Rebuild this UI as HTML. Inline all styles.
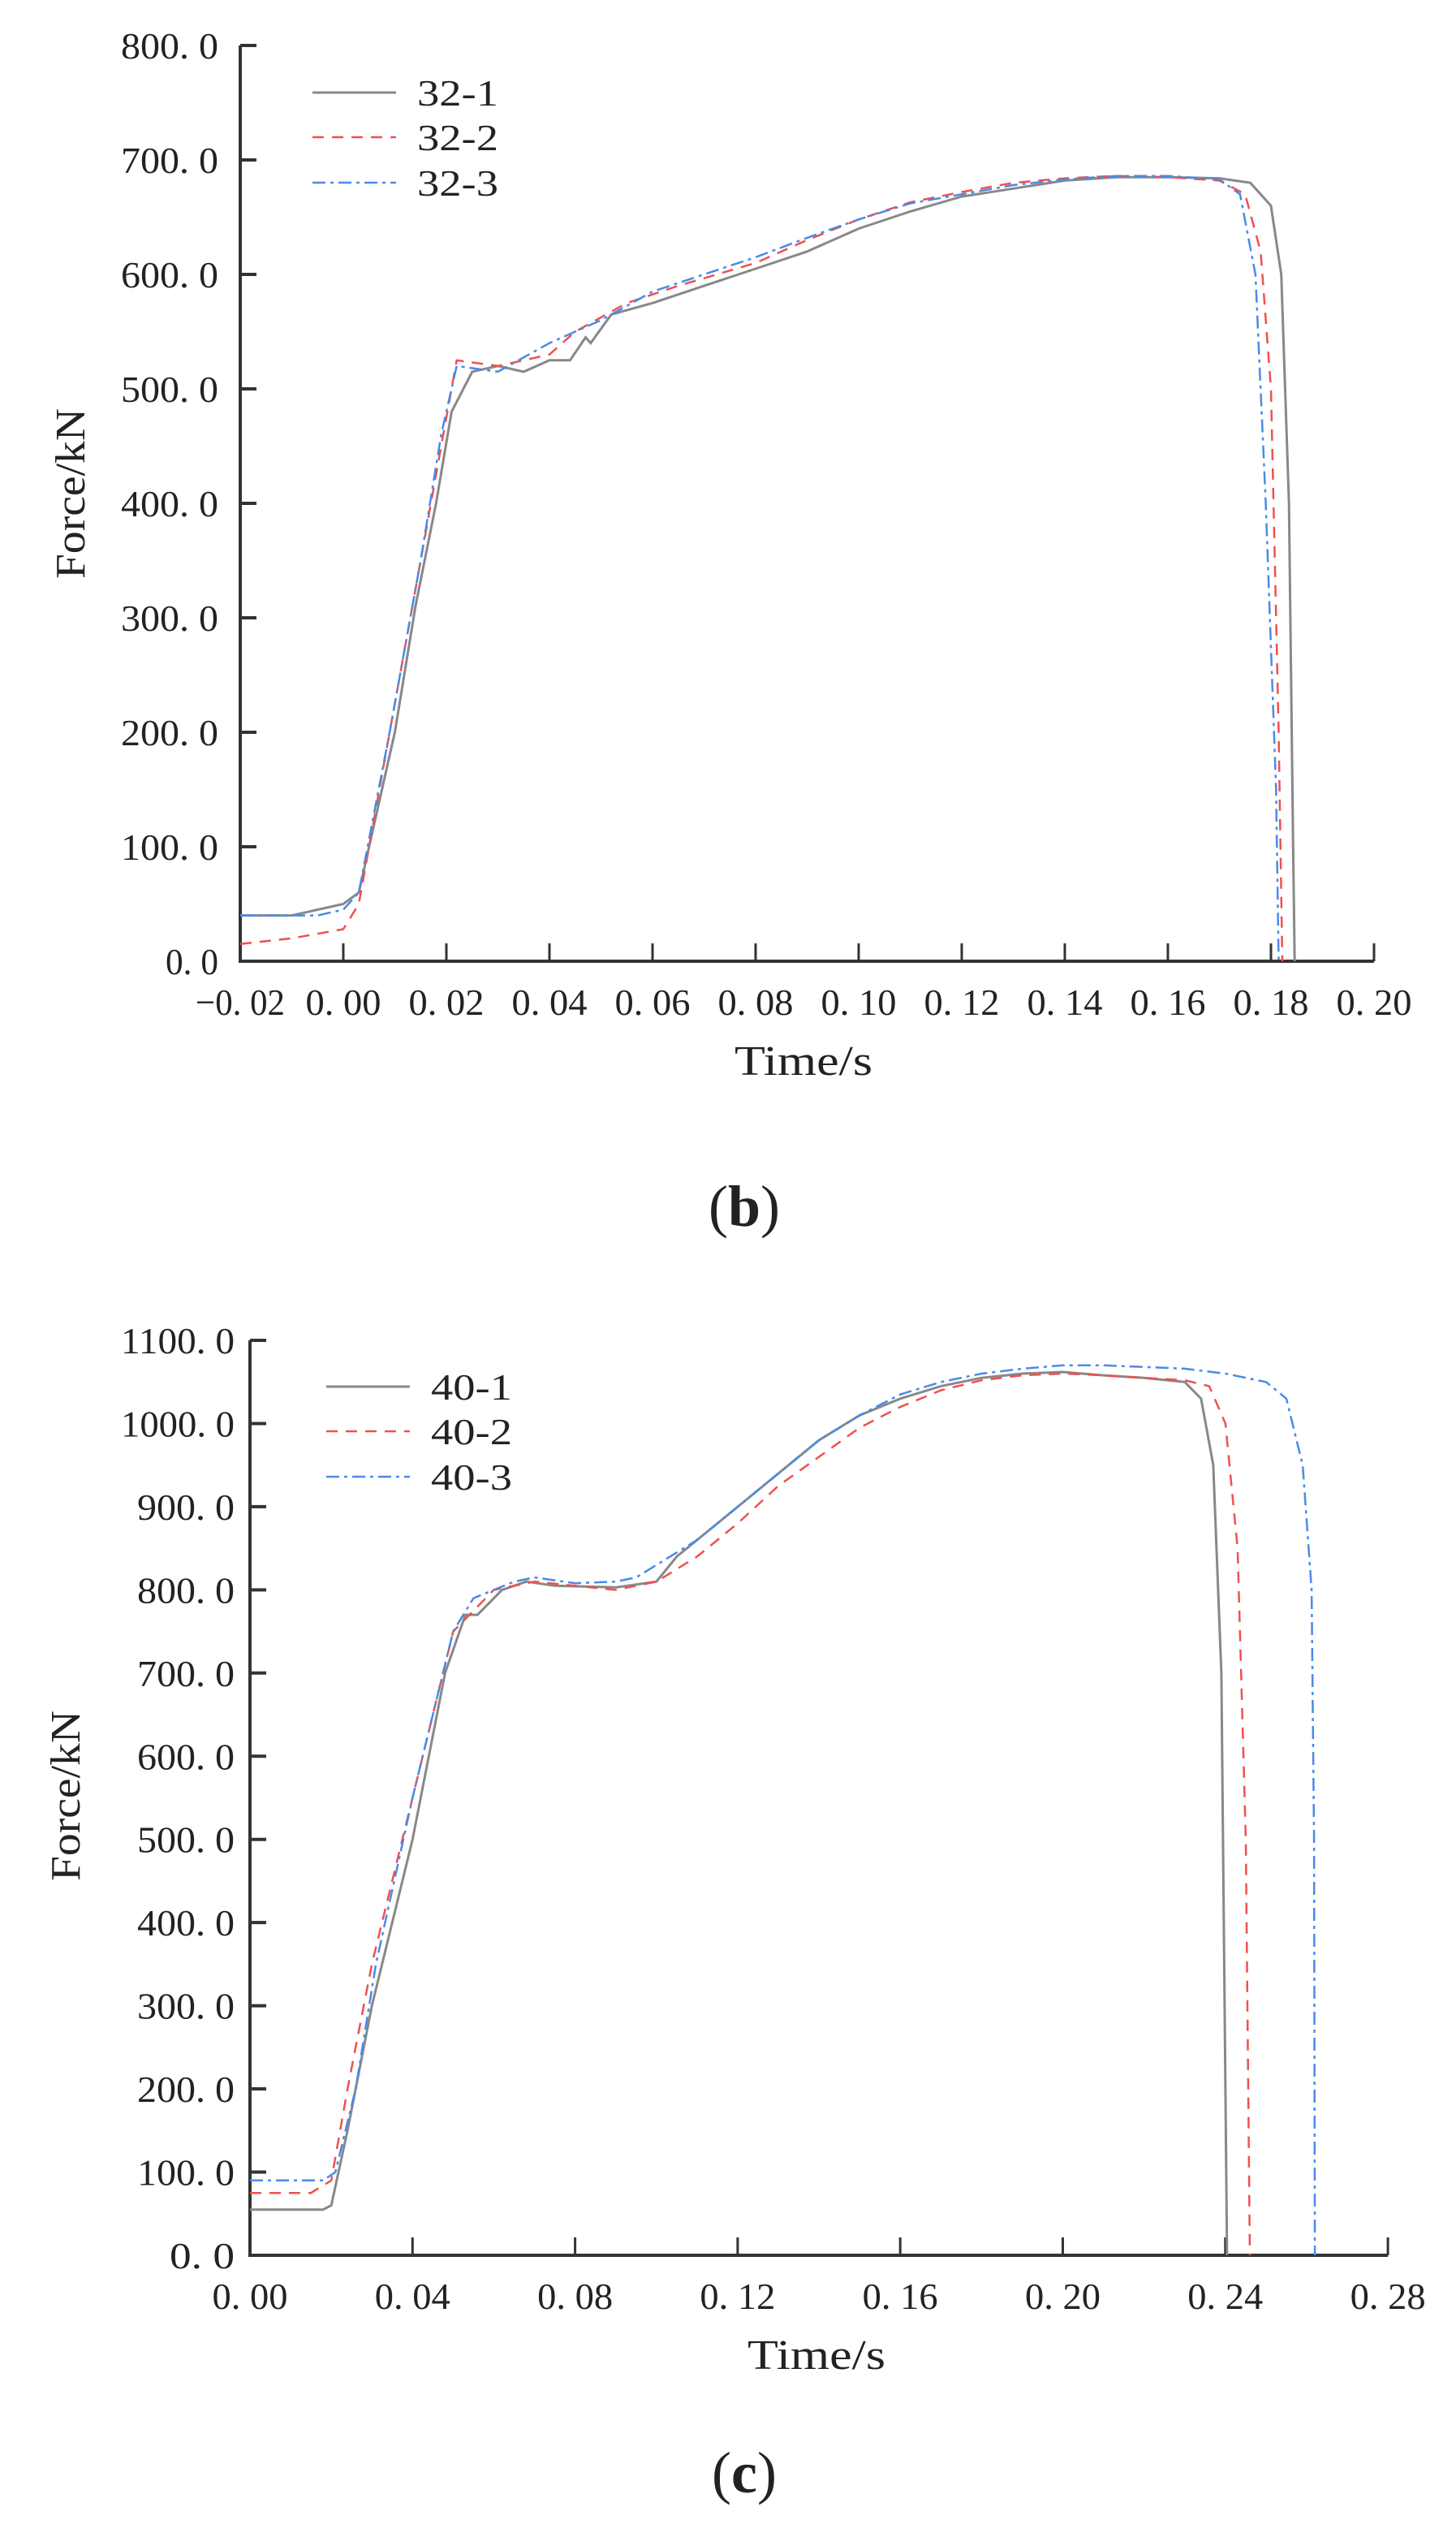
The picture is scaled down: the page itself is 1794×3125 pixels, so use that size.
<!DOCTYPE html>
<html><head><meta charset="utf-8"><style>
html,body{margin:0;padding:0;background:#fff;}
svg{display:block;}
text{font-family:"Liberation Serif","DejaVu Serif",serif;fill:#222;}
</style></head><body>
<svg id="s" width="1794" height="3125" viewBox="0 0 1794 3125" xmlns="http://www.w3.org/2000/svg">
<rect width="1794" height="3125" fill="#fff"/>
<g id="axes" stroke="#333" fill="none"></g>
<g id="series" fill="none"></g>
<g font-size="46" text-anchor="end">
<text x="269" y="72" textLength="120" lengthAdjust="spacingAndGlyphs">800. 0</text>
<text x="269" y="213" textLength="120" lengthAdjust="spacingAndGlyphs">700. 0</text>
<text x="269" y="354" textLength="120" lengthAdjust="spacingAndGlyphs">600. 0</text>
<text x="269" y="495" textLength="120" lengthAdjust="spacingAndGlyphs">500. 0</text>
<text x="269" y="636" textLength="120" lengthAdjust="spacingAndGlyphs">400. 0</text>
<text x="269" y="777" textLength="120" lengthAdjust="spacingAndGlyphs">300. 0</text>
<text x="269" y="918" textLength="120" lengthAdjust="spacingAndGlyphs">200. 0</text>
<text x="269" y="1059" textLength="120" lengthAdjust="spacingAndGlyphs">100. 0</text>
<text x="269" y="1200" textLength="65" lengthAdjust="spacingAndGlyphs">0. 0</text>
</g>
<g font-size="46" text-anchor="middle" id="xb"></g>
<text x="990" y="1324" font-size="52" text-anchor="middle" textLength="170" lengthAdjust="spacingAndGlyphs">Time/s</text>
<text transform="translate(104,608) rotate(-90)" font-size="52" text-anchor="middle" textLength="210" lengthAdjust="spacingAndGlyphs">Force/kN</text>
<text x="917" y="1510" font-size="72" text-anchor="middle"><tspan>(</tspan><tspan font-weight="bold">b</tspan><tspan>)</tspan></text>
<g font-size="46">
<text x="514" y="130" textLength="100" lengthAdjust="spacingAndGlyphs">32-1</text>
<text x="514" y="185" textLength="100" lengthAdjust="spacingAndGlyphs">32-2</text>
<text x="514" y="241" textLength="100" lengthAdjust="spacingAndGlyphs">32-3</text>
</g>
<g font-size="46" text-anchor="end" id="yc"></g>
<g font-size="46" text-anchor="middle" id="xc"></g>
<text x="1006" y="2918" font-size="52" text-anchor="middle" textLength="170" lengthAdjust="spacingAndGlyphs">Time/s</text>
<text transform="translate(98,2212) rotate(-90)" font-size="52" text-anchor="middle" textLength="210" lengthAdjust="spacingAndGlyphs">Force/kN</text>
<text x="917" y="3070" font-size="72" text-anchor="middle"><tspan>(</tspan><tspan font-weight="bold">c</tspan><tspan>)</tspan></text>
<g font-size="46">
<text x="531" y="1724" textLength="100" lengthAdjust="spacingAndGlyphs">40-1</text>
<text x="531" y="1779" textLength="100" lengthAdjust="spacingAndGlyphs">40-2</text>
<text x="531" y="1835" textLength="100" lengthAdjust="spacingAndGlyphs">40-3</text>
</g>
</svg>
<script>
var NS="http://www.w3.org/2000/svg";
function el(p,tag,a,txt){var e=document.createElementNS(NS,tag);for(var k in a)e.setAttribute(k,a[k]);if(txt!==undefined)e.textContent=txt;document.getElementById(p).appendChild(e);return e;}
var ax="axes";
el(ax,"path",{d:"M296 56 L296 1184 L1693 1184","stroke-width":"4"});
for(var i=0;i<=8;i++){var y=56+i*141;el(ax,"line",{x1:296,y1:y,x2:316,y2:y,"stroke-width":"4"});}
for(var i=0;i<=11;i++){var x=296+i*127;el(ax,"line",{x1:x,y1:1162,x2:x,y2:1184,"stroke-width":"3"});
 var v=(-0.02+i*0.02).toFixed(2).replace(".",". ").replace("-","\u2212");
 el("xb","text",{x:x,y:1250,textLength:(i==0?110:93),lengthAdjust:"spacingAndGlyphs"},v);}
el(ax,"path",{d:"M308 1651 L308 2778 L1710 2778","stroke-width":"4"});
for(var i=0;i<=11;i++){var y=1651+i*102.45;el(ax,"line",{x1:308,y1:y,x2:328,y2:y,"stroke-width":"4"});
 var val=(1100-i*100);var s=val+". 0";
 el("yc","text",{x:289,y:y+16,textLength:(s.length*20),lengthAdjust:"spacingAndGlyphs"},s);}
for(var i=0;i<=7;i++){var x=308+i*200.3;el(ax,"line",{x1:x,y1:2756,x2:x,y2:2778,"stroke-width":"3"});
 el("xc","text",{x:x,y:2844,textLength:93,lengthAdjust:"spacingAndGlyphs"},(i*0.04).toFixed(2).replace(".",". "));}
function leg(x1,x2,y,st){var a={x1:x1,y1:y,x2:x2,y2:y};for(var k in st)a[k]=st[k];el("series","line",a);}
var S1={stroke:"#888","stroke-width":"3"},S2={stroke:"#f05050","stroke-width":"2.5","stroke-dasharray":"14 10"},S3={stroke:"#4a8ae8","stroke-width":"2.5","stroke-dasharray":"16 6 4 6"};
leg(385,488,114,S1);leg(385,488,169,S2);leg(385,488,225,S3);
leg(402,505,1708,S1);leg(402,505,1763,S2);leg(402,505,1819,S3);
function draw(pts,X,Y,st){var d="";pts.forEach(function(p,i){d+=(i?"L":"M")+X(p[0]).toFixed(1)+" "+Y(p[1]).toFixed(1)+" ";});var a={d:d};for(var k in st)a[k]=st[k];el("series","path",a);}
var Xb=function(t){return 296+(t+0.02)*6350},Yb=function(f){return 1184-f*1.41};
var b1=[[-0.02,40],[-0.01,40],[0,50],[0.003,60],[0.006,120],[0.01,200],[0.014,310],[0.018,400],[0.021,480],[0.025,515],[0.03,520],[0.035,515],[0.04,525],[0.044,525],[0.047,545],[0.048,540],[0.052,565],[0.06,575],[0.07,590],[0.08,605],[0.09,620],[0.1,640],[0.11,655],[0.12,668],[0.13,675],[0.14,682],[0.15,685],[0.16,685],[0.17,684],[0.176,680],[0.18,660],[0.182,600],[0.1835,400],[0.1843,100],[0.1846,0]];
var b2=[[-0.02,15],[-0.01,20],[0,28],[0.003,50],[0.009,200],[0.015,350],[0.019,450],[0.022,525],[0.03,520],[0.04,530],[0.045,550],[0.055,575],[0.065,590],[0.08,610],[0.09,630],[0.1,648],[0.11,663],[0.12,672],[0.13,680],[0.14,684],[0.15,686],[0.16,685],[0.17,682],[0.175,670],[0.178,620],[0.18,500],[0.1815,200],[0.1822,0]];
var b3=[[-0.02,40],[-0.005,40],[0,45],[0.003,60],[0.009,200],[0.015,350],[0.019,460],[0.022,520],[0.03,515],[0.04,540],[0.05,560],[0.06,585],[0.07,600],[0.08,615],[0.09,632],[0.1,648],[0.11,662],[0.12,670],[0.13,678],[0.14,683],[0.15,686],[0.16,686],[0.17,683],[0.174,670],[0.177,600],[0.179,400],[0.181,150],[0.1815,0]];
draw(b1,Xb,Yb,S1);draw(b2,Xb,Yb,S2);draw(b3,Xb,Yb,S3);
var Xc=function(t){return 308+t*5008},Yc=function(f){return 2778-f*1.0245};
var c1=[[0,55],[0.018,55],[0.02,60],[0.024,150],[0.03,300],[0.04,500],[0.048,700],[0.053,770],[0.056,770],[0.062,800],[0.068,810],[0.075,805],[0.09,803],[0.1,810],[0.105,840],[0.11,860],[0.12,900],[0.13,940],[0.14,980],[0.15,1010],[0.16,1030],[0.17,1045],[0.18,1055],[0.19,1060],[0.2,1062],[0.21,1058],[0.22,1055],[0.23,1050],[0.234,1030],[0.237,950],[0.239,700],[0.2398,300],[0.2404,0]];
var c2=[[0,75],[0.015,75],[0.02,90],[0.024,200],[0.03,350],[0.04,550],[0.05,750],[0.06,800],[0.07,810],[0.08,805],[0.09,800],[0.1,810],[0.11,840],[0.12,880],[0.13,925],[0.14,960],[0.15,995],[0.16,1020],[0.17,1040],[0.18,1052],[0.19,1058],[0.2,1060],[0.21,1058],[0.22,1055],[0.23,1052],[0.236,1045],[0.24,1000],[0.243,850],[0.245,500],[0.2458,100],[0.246,0]];
var c3=[[0,90],[0.018,90],[0.021,100],[0.026,200],[0.031,350],[0.04,550],[0.05,750],[0.055,790],[0.065,810],[0.07,815],[0.08,808],[0.09,810],[0.095,815],[0.1,830],[0.11,860],[0.12,900],[0.13,940],[0.14,980],[0.15,1010],[0.16,1035],[0.17,1050],[0.18,1060],[0.19,1066],[0.2,1070],[0.21,1070],[0.22,1068],[0.23,1066],[0.24,1060],[0.25,1050],[0.255,1030],[0.259,950],[0.2612,800],[0.2618,500],[0.262,0]];
draw(c1,Xc,Yc,S1);draw(c2,Xc,Yc,S2);draw(c3,Xc,Yc,S3);
</script>
</body></html>
